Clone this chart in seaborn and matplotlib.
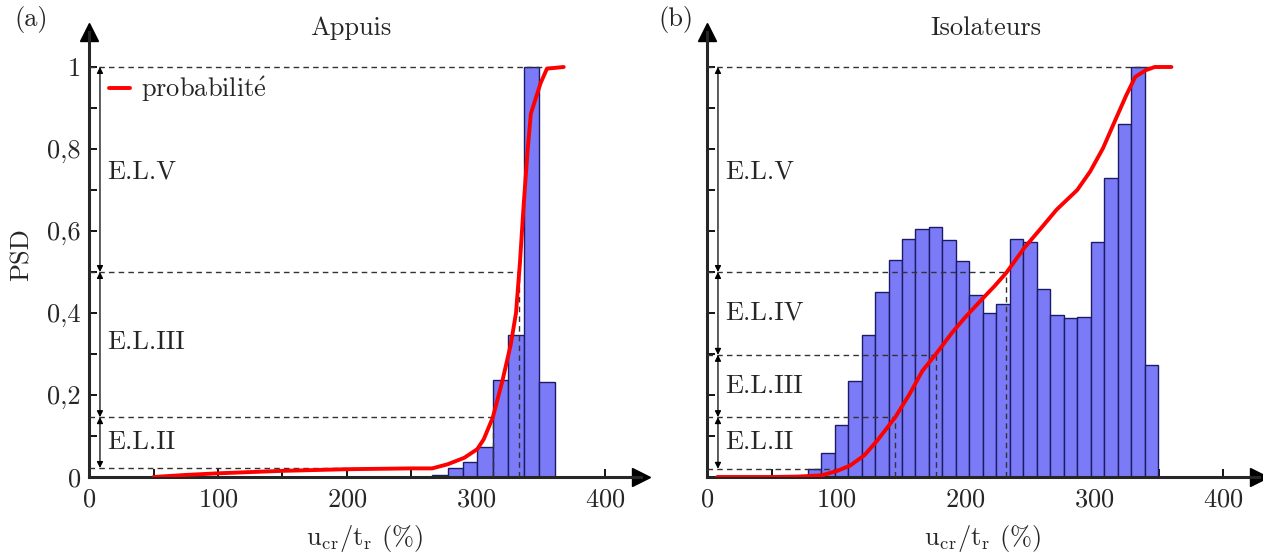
import numpy as np
import pandas as pd
import seaborn as sns
import matplotlib.pyplot as plt

# ---- (a) Appuis : values ----
appuis_edges = [266, 278, 290, 301, 313, 325, 337, 349, 361]
appuis_hist = [0.005, 0.023, 0.037, 0.072, 0.237, 0.347, 1.0, 0.232]
appuis_cdf_x = [50, 75, 100, 125, 150, 175, 200, 225, 250, 266, 278, 291, 301, 306,
                313, 320.5, 327, 331, 334, 337, 340, 342.5, 350, 355, 368]
appuis_cdf_y = [0.0, 0.005, 0.009, 0.012, 0.015, 0.017, 0.019, 0.020, 0.021, 0.021,
                0.031, 0.047, 0.068, 0.092, 0.145, 0.235, 0.324, 0.40, 0.52, 0.666,
                0.796, 0.886, 0.96, 0.996, 1.0]
appuis_levels = [0.022, 0.146, 0.5, 1.0]
appuis_level_x = [265, 312.8, 333.7, 368]
appuis_drops = [312.8, 333.7]
appuis_drop_y = [0.146, 0.5]
appuis_zones = ['E.L.II', 'E.L.III', 'E.L.V']
appuis_zone_y = [0.085, 0.33, 0.745]

# ---- (b) Isolateurs ----
iso_edges = [78, 88.5, 99, 109.4, 119.8, 130.3, 140.7, 151.2, 161.6, 172.1, 182.5,
             192.9, 203.4, 213.8, 224.3, 234.7, 245.2, 255.6, 266, 276.5, 286.9,
             297.4, 307.8, 318.3, 328.7, 339.2, 349.6]
iso_hist = [0.020, 0.059, 0.128, 0.235, 0.347, 0.451, 0.529, 0.581, 0.604, 0.610,
            0.577, 0.526, 0.445, 0.399, 0.421, 0.581, 0.572, 0.459, 0.394, 0.389,
            0.391, 0.573, 0.730, 0.862, 1.0, 0.274]
iso_cdf_x = [8, 50, 70, 89, 101, 111, 122, 132, 146, 157, 167, 177, 190, 200, 213,
             223, 232, 246, 259, 271, 287, 297, 307, 317, 325, 332, 340, 347, 360]
iso_cdf_y = [0.0, 0.0, 0.001, 0.004, 0.015, 0.028, 0.053, 0.089, 0.146, 0.202, 0.259,
             0.298, 0.352, 0.389, 0.433, 0.466, 0.498, 0.559, 0.607, 0.652, 0.700,
             0.745, 0.802, 0.874, 0.931, 0.976, 0.992, 1.0, 1.0]
iso_levels = [0.02, 0.146, 0.298, 0.5, 1.0]
iso_level_x = [105, 145.7, 177.4, 232, 360]
iso_drops = [145.7, 177.4, 232]
iso_drop_y = [0.146, 0.298, 0.5]
iso_zones = ['E.L.II', 'E.L.III', 'E.L.IV', 'E.L.V']
iso_zone_y = [0.085, 0.222, 0.40, 0.745]

sns.set_style('ticks')
plt.rcParams['font.family'] = ['cmr10', 'DejaVu Serif']
plt.rcParams['mathtext.fontset'] = 'cm'
plt.rcParams['axes.formatter.use_mathtext'] = True

BAR = '#7b7bf7'
EDGE = '#1c1c66'
XMAX, YMAX = 428, 1.085


def draw_panel(ax, edges, hist, cx, cy, levels, level_x, drops, drop_y,
               zones, zone_y, title, tag, ylabels, label=None):
    e = np.array(edges)
    df = pd.DataFrame({'x': (e[:-1] + e[1:]) / 2, 'w': hist})
    sns.histplot(data=df, x='x', weights='w', bins=list(edges), stat='count',
                 color=BAR, edgecolor=EDGE, linewidth=1.0, alpha=1, ax=ax)
    sns.lineplot(x=cx, y=cy, color='#ff0000', lw=2.8, ax=ax, label=label,
                 legend=bool(label), zorder=5)

    # dashed reference levels
    for y, x in zip(levels, level_x):
        ax.plot([0, x], [y, y], ls=(0, (4, 3)), color='#333333', lw=1.0, zorder=4)
    for x, y in zip(drops, drop_y):
        ax.plot([x, x], [0, y], ls=(0, (4, 3)), color='#333333', lw=1.0, zorder=4)

    # double arrows + zone names
    for lo, hi, name, ym in zip(levels[:-1], levels[1:], zones, zone_y):
        ax.annotate('', xy=(8.5, hi), xytext=(8.5, lo),
                    arrowprops=dict(arrowstyle='<|-|>', color='black', lw=0.9,
                                    mutation_scale=9, shrinkA=0, shrinkB=0))
        ax.text(14, ym, name, fontsize=19, va='center', ha='left')

    ax.set_xlim(0, XMAX)
    ax.set_ylim(0, YMAX)
    ax.set_xticks([0, 100, 200, 300, 400])
    ax.set_xticks([50, 150, 250, 350], minor=True)
    ax.set_yticks([0, 0.2, 0.4, 0.6, 0.8, 1.0])
    ax.set_yticks([0.1, 0.3, 0.5, 0.7, 0.9], minor=True)
    if ylabels:
        ax.set_yticklabels(['0', '0,2', '0,4', '0,6', '0,8', '1'])
        ax.set_ylabel('PSD', fontsize=19, labelpad=10)
    else:
        ax.set_yticklabels([])
        ax.set_ylabel('')
    ax.tick_params(which='both', direction='in', length=6, width=1.3,
                   labelsize=19, color='black')
    ax.tick_params(axis='x', pad=8)
    ax.tick_params(axis='y', pad=6)
    ax.set_xlabel(r'$\mathrm{u_{cr}/t_r}$ (%)', fontsize=19, labelpad=8)

    sns.despine(ax=ax)
    for s in ('left', 'bottom'):
        ax.spines[s].set_linewidth(2.2)
    ax.plot(1, 0, '>k', ms=13, transform=ax.get_yaxis_transform(), clip_on=False)
    ax.plot(0, 1, '^k', ms=13, transform=ax.get_xaxis_transform(), clip_on=False)

    ax.text(title[1], 1.095, title[0], fontsize=19, ha='center', va='center')
    ax.text(tag[1], 1.115, tag[0], fontsize=19, ha='center', va='center')


fig = plt.figure(figsize=(12.63, 5.57), dpi=100)
W, H = 1263, 557
ax1 = fig.add_axes([89 / W, 80 / H, XMAX * 1.29 / W, YMAX * 410 / H])
ax2 = fig.add_axes([707 / W, 80 / H, XMAX * 1.29 / W, YMAX * 410 / H])

draw_panel(ax1, appuis_edges, appuis_hist, appuis_cdf_x, appuis_cdf_y,
           appuis_levels, appuis_level_x, appuis_drops, appuis_drop_y,
           appuis_zones, appuis_zone_y, ('Appuis', 203), ('(a)', -45), True,
           label=r'probabilit$\mathrm{\acute{e}}$')
draw_panel(ax2, iso_edges, iso_hist, iso_cdf_x, iso_cdf_y,
           iso_levels, iso_level_x, iso_drops, iso_drop_y,
           iso_zones, iso_zone_y, ('Isolateurs', 216), ('(b)', -24), False)

ax1.legend(loc='upper left', bbox_to_anchor=(0.036, 0.905), frameon=False,
           fontsize=19, handlelength=0.8, handletextpad=0.4, borderpad=0,
           borderaxespad=0)

fig.savefig('out.png', dpi=100)
